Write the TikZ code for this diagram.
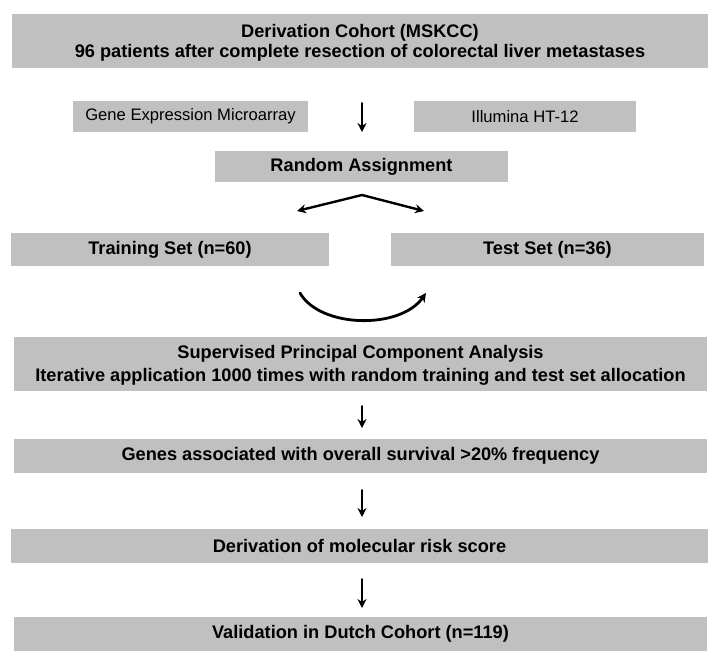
\documentclass[tikz,border=0pt]{standalone}
\usepackage{fontspec}
\setmainfont{Liberation Sans}
\usetikzlibrary{arrows.meta}
\definecolor{boxColor}{RGB}{192,192,193}
\tikzset{>={Stealth[length=9pt,width=9pt]},
  box/.style={fill=boxColor,inner sep=0pt,align=center,
    font=\bfseries\fontsize{18.2}{21}\selectfont},
  twolines/.style={box,text depth=0pt},
  plainbox/.style={box,font=\fontsize{16.6}{21}\selectfont},
  flow/.style={->,line width=2pt}}

\begin{document}
\begin{tikzpicture}[x=1pt,y=-1pt,line cap=round]

  \useasboundingbox (0,0) rectangle (718,659);

  % boxes
  \node [twolines,font=\bfseries\fontsize{18.2}{20.5}\selectfont,
    minimum width=696,minimum height=54] (cohort) at (360,41)
    {Derivation Cohort (MSKCC)\\96 patients after complete resection of colorectal liver metastases};
  \node [plainbox,minimum width=235,minimum height=31] (array) at (190.5,116.5)
    {Gene Expression Microarray};
  \node [plainbox,minimum width=222,minimum height=31] (illumina) at (525,116.5)
    {Illumina HT-12};
  \node [box,minimum width=293,minimum height=31] (random) at (361.5,166.5)
    {Random Assignment};
  \node [box,minimum width=318,minimum height=33] (train) at (170,249.5)
    {Training Set (n=60)};
  \node [box,minimum width=313,minimum height=33] (test) at (547.5,249.5)
    {Test Set (n=36)};
  \node [twolines,font=\bfseries\fontsize{18.2}{23}\selectfont,
    minimum width=693,minimum height=54] (spca) at (360.5,363.5)
    {Supervised Principal Component Analysis\\Iterative application 1000 times with random training and test set allocation};
  \node [box,minimum width=693,minimum height=34] (genes) at (360.5,456)
    {Genes associated with overall survival >20\% frequency};
  \node [box,minimum width=697,minimum height=34] (score) at (359.5,546)
    {Derivation of molecular risk score};
  \node [box,minimum width=693,minimum height=34] (dutch) at (360.5,634)
    {Validation in Dutch Cohort (n=119)};

  % arrow ends
  \coordinate (a1) at (362,103);
  \coordinate (b1) at (362,132);
  \coordinate (splitL) at (297,211);
  \coordinate (splitT) at (362,195);
  \coordinate (splitR) at (424,211);
  \coordinate (loopL) at (300,293);
  \coordinate (loopR) at (426,293);
  \coordinate (a2) at (362,406);
  \coordinate (b2) at (362,428);
  \coordinate (a3) at (362,490);
  \coordinate (b3) at (362,517);
  \coordinate (a4) at (362,579);
  \coordinate (b4) at (362,608);

  \draw [flow] (a1) -- (b1);
  \draw [flow,<->,line width=2.4pt] (splitL) -- (splitT) -- (splitR);
  \draw [flow,line width=2.8pt] (loopL) .. controls (320,328) and (400,330) .. (loopR);
  \draw [flow] (a2) -- (b2);
  \draw [flow] (a3) -- (b3);
  \draw [flow] (a4) -- (b4);

\end{tikzpicture}
\end{document}
